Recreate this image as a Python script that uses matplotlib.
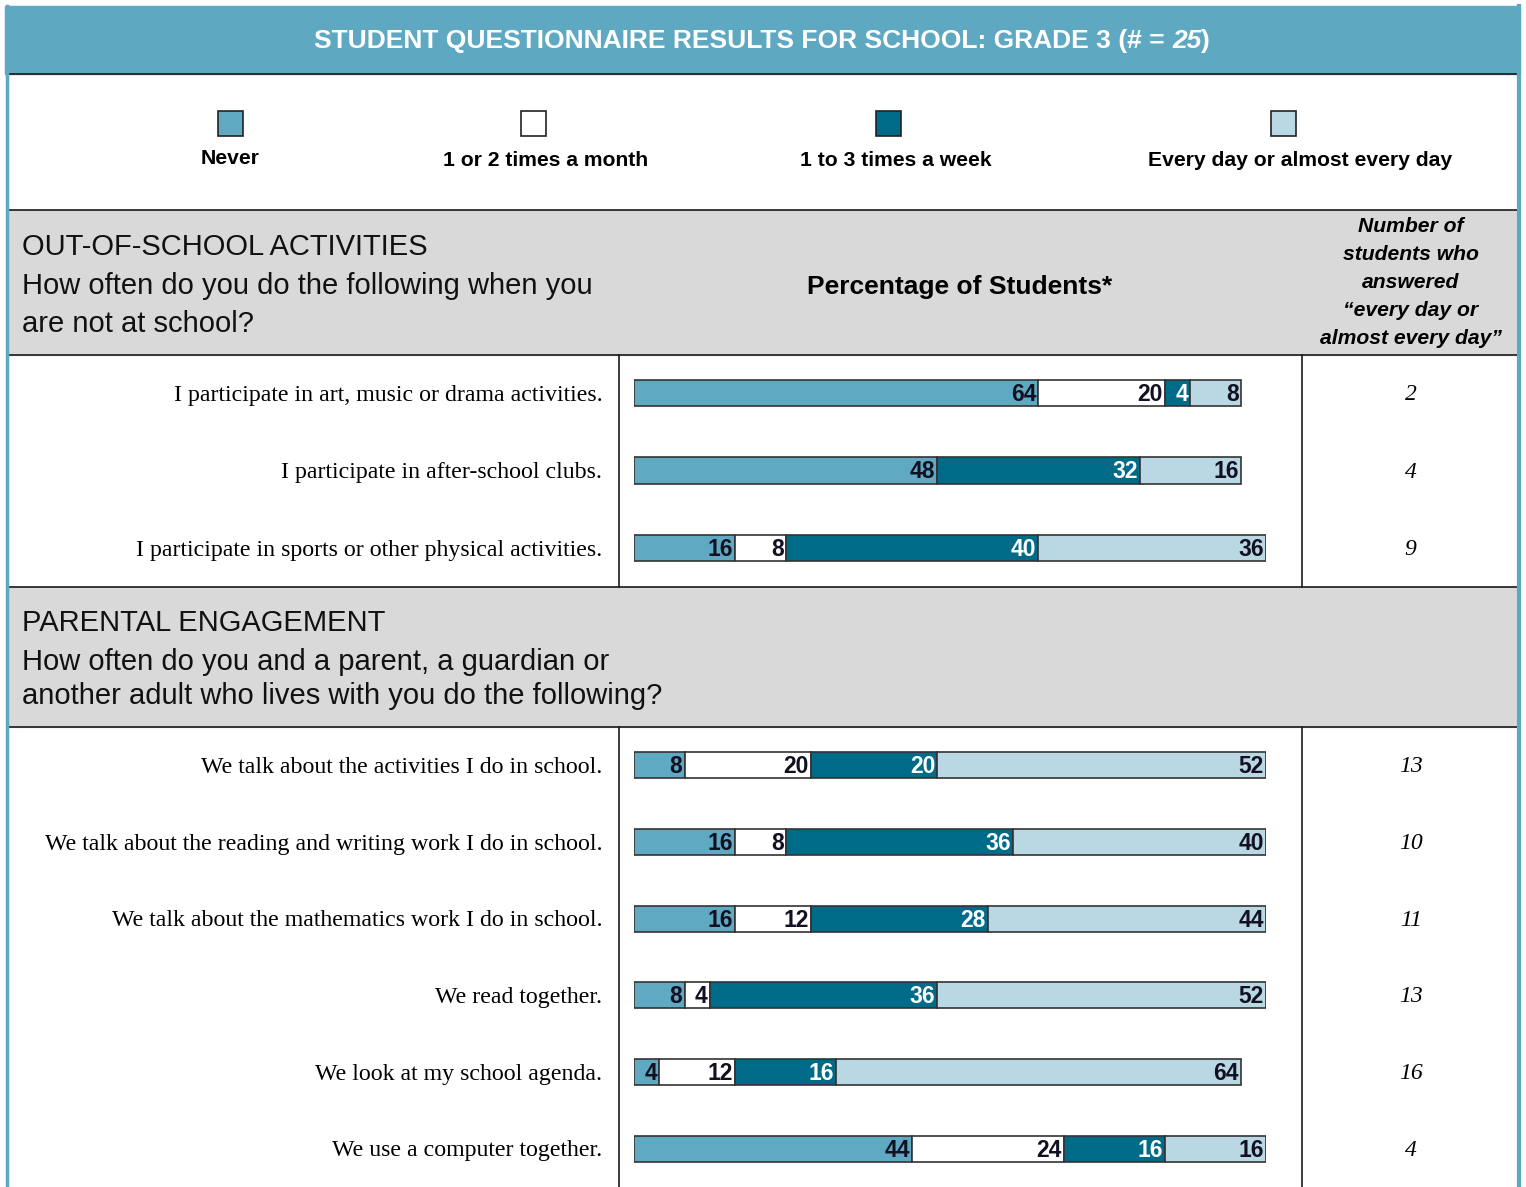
import matplotlib.pyplot as plt
from matplotlib.patches import Rectangle

# Response categories and colours
categories = ['Never', '1 or 2 times a month', '1 to 3 times a week',
              'Every day or almost every day']
colors = ['#5fa9c2', '#ffffff', '#006a89', '#b9d8e3']
label_colors = ['#111122', '#111122', '#ffffff', '#111122']

# Out-of-school activities (percent per category)
activity_items = [
    'I participate in art, music or drama activities.',
    'I participate in after-school clubs.',
    'I participate in sports or other physical activities.',
]
activity_pct = [
    [64, 20, 4, 8],
    [48, 0, 32, 16],
    [16, 8, 40, 36],
]
activity_counts = [2, 4, 9]

# Parental engagement (percent per category)
parent_items = [
    'We talk about the activities I do in school.',
    'We talk about the reading and writing work I do in school.',
    'We talk about the mathematics work I do in school.',
    'We read together.',
    'We look at my school agenda.',
    'We use a computer together.',
]
parent_pct = [
    [8, 20, 20, 52],
    [16, 8, 36, 40],
    [16, 12, 28, 44],
    [8, 4, 36, 52],
    [4, 12, 16, 64],
    [44, 24, 16, 16],
]
parent_counts = [13, 10, 11, 13, 16, 4]

W, H = 1526, 1187
SANS = 'Liberation Sans'
SERIF = 'Liberation Serif'

fig = plt.figure(figsize=(W / 100, H / 100), dpi=100)
bg = fig.add_axes([0, 0, 1, 1])
bg.set_xlim(0, W)
bg.set_ylim(H, 0)
bg.axis('off')

BORDER = '#5fa8c1'
GREY = '#d9d9d9'

# title band and outer frame
bg.add_patch(Rectangle((5, 6), 1515, 68, color=BORDER, zorder=1))
bg.plot([6.5, 6.5], [6, H], color=BORDER, lw=2.5, zorder=3)
bg.plot([1518.5, 1518.5], [6, H], color=BORDER, lw=3, zorder=3)

# grey section headers
bg.add_patch(Rectangle((8, 210), 1509, 145, color=GREY, zorder=1))
bg.add_patch(Rectangle((8, 587), 1509, 140, color=GREY, zorder=1))
for y in [74, 210, 355, 587, 727]:
    bg.plot([8, 1517], [y, y], color='#1a1a1a', lw=1.2, zorder=2)
for x in [619, 1302]:
    bg.plot([x, x], [355, 587], color='#1a1a1a', lw=1.2, zorder=2)
    bg.plot([x, x], [727, H], color='#1a1a1a', lw=1.2, zorder=2)

# title with italic count
renderer = fig.canvas.get_renderer()
parts = [('STUDENT QUESTIONNAIRE RESULTS FOR SCHOOL: GRADE 3 (# = ', 'normal'),
         ('25', 'italic'), (')', 'normal')]
texts = [bg.text(0, 41, s, color='white', fontsize=19, fontweight='bold',
                 family=SANS, style=st, va='center', ha='left', zorder=4)
         for s, st in parts]
widths = [t.get_window_extent(renderer).width for t in texts]
x0 = 762 - sum(widths) / 2
for t, w in zip(texts, widths):
    t.set_x(x0)
    x0 += w

# legend
legend_x = [230, 533, 888, 1283]
label_x = [230, 546, 896, 1300]
label_y = [159, 161, 161, 161]
for cx, lx, ly, name, c in zip(legend_x, label_x, label_y, categories, colors):
    bg.add_patch(Rectangle((cx - 12.5, 111), 25, 25, facecolor=c,
                           edgecolor='#222222', lw=1.2, zorder=3))
    bg.text(lx, ly, name, fontsize=15.2, fontweight='bold', family=SANS,
            ha='center', va='center', zorder=3)

# section headers
hdr = dict(fontsize=21, family=SANS, ha='left', va='center', color='#111111')
bg.text(22, 247, 'OUT-OF-SCHOOL ACTIVITIES', **hdr)
bg.text(22, 286, 'How often do you do the following when you', **hdr)
bg.text(22, 324, 'are not at school?', **hdr)
bg.text(960, 287, 'Percentage of Students*', fontsize=19, fontweight='bold',
        family=SANS, ha='center', va='center')
count_header = ['Number of', 'students who', 'answered',
                '\u201cevery day or', 'almost every day\u201d']
for i, line in enumerate(count_header):
    bg.text(1411, 227 + 28 * i, line, fontsize=15.2, fontweight='bold',
            style='italic', family=SANS, ha='center', va='center')

bg.text(22, 623, 'PARENTAL ENGAGEMENT', **hdr)
bg.text(22, 662, 'How often do you and a parent, a guardian or', **hdr)
bg.text(22, 696, 'another adult who lives with you do the following?', **hdr)


def draw_section(top, bottom, items, pct, counts):
    ax = fig.add_axes([634 / W, 1 - bottom / H, 632 / W, (bottom - top) / H])
    ax.set_xlim(0, 100)
    ax.set_ylim(len(items) - 0.5, -0.5)
    ax.axis('off')
    ax.patch.set_alpha(0)
    for row, vals in enumerate(pct):
        left = 0
        for k, v in enumerate(vals):
            if v == 0:
                continue
            ax.barh(row, v, left=left, height=0.34, color=colors[k],
                    edgecolor='#333333', linewidth=1.2, zorder=2)
            ax.annotate(str(v), (left + v, row), xytext=(-1.5, -1),
                        textcoords='offset points', ha='right', va='center',
                        fontsize=16.5, fontweight='bold', family=SANS,
                        color=label_colors[k], zorder=3)
            left += v
    # item text and counts share the row positions of the bars
    trans = ax.get_yaxis_transform()
    for row, (item, n) in enumerate(zip(items, counts)):
        ax.text(-0.05, row + 0.03, item, transform=trans, ha='right',
                va='center', fontsize=17.2, family=SERIF, clip_on=False)
        ax.text(1.229, row + 0.02, str(n), transform=trans, ha='center',
                va='center', fontsize=17, family=SERIF, style='italic',
                clip_on=False)


draw_section(354, 587, activity_items, activity_pct, activity_counts)
draw_section(727, 1187, parent_items, parent_pct, parent_counts)

fig.savefig('out.png', dpi=100)
